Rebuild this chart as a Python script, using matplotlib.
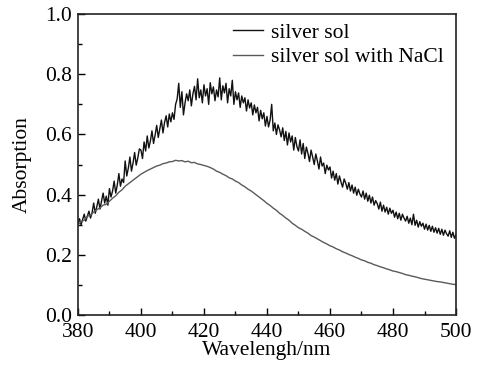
import matplotlib
matplotlib.use("Agg")
import matplotlib.pyplot as plt
from matplotlib.ticker import MultipleLocator

plt.rcParams['font.family'] = ['Liberation Serif', 'DejaVu Serif']

# silver sol measured every 0.5 nm, NaCl sample every 1 nm
wl_silver = [380 + 0.5 * i for i in range(241)]
silver_sol = [
    0.305, 0.320, 0.300, 0.318, 0.335, 0.312, 0.328, 0.345, 0.322, 0.340,
    0.372, 0.338, 0.360, 0.385, 0.352, 0.378, 0.405, 0.372, 0.395, 0.365,
    0.420, 0.392, 0.412, 0.445, 0.405, 0.432, 0.470, 0.428, 0.452, 0.440,
    0.512, 0.462, 0.488, 0.525, 0.478, 0.505, 0.540, 0.498, 0.522, 0.552,
    0.548, 0.520, 0.575, 0.545, 0.595, 0.555, 0.578, 0.612, 0.570, 0.598,
    0.630, 0.590, 0.618, 0.648, 0.605, 0.640, 0.662, 0.625, 0.668, 0.642,
    0.672, 0.650, 0.700, 0.718, 0.770, 0.690, 0.742, 0.665, 0.705, 0.735,
    0.712, 0.748, 0.695, 0.735, 0.760, 0.715, 0.785, 0.722, 0.748, 0.705,
    0.765, 0.728, 0.752, 0.700, 0.772, 0.735, 0.758, 0.712, 0.748, 0.725,
    0.788, 0.715, 0.762, 0.738, 0.770, 0.705, 0.752, 0.728, 0.780, 0.700,
    0.742, 0.715, 0.738, 0.690, 0.728, 0.705, 0.722, 0.678, 0.715, 0.688,
    0.705, 0.665, 0.698, 0.672, 0.690, 0.645, 0.680, 0.652, 0.672, 0.628,
    0.660, 0.625, 0.648, 0.700, 0.612, 0.638, 0.600, 0.632, 0.615, 0.592,
    0.622, 0.580, 0.610, 0.565, 0.605, 0.575, 0.595, 0.548, 0.590, 0.560,
    0.545, 0.582, 0.535, 0.570, 0.520, 0.558, 0.538, 0.510, 0.548, 0.525,
    0.500, 0.535, 0.512, 0.485, 0.525, 0.495, 0.505, 0.470, 0.498, 0.482,
    0.492, 0.455, 0.478, 0.448, 0.470, 0.435, 0.462, 0.442, 0.425, 0.452,
    0.438, 0.418, 0.440, 0.412, 0.432, 0.405, 0.425, 0.398, 0.418, 0.402,
    0.392, 0.412, 0.385, 0.405, 0.378, 0.398, 0.372, 0.392, 0.365, 0.380,
    0.370, 0.352, 0.375, 0.345, 0.365, 0.342, 0.358, 0.335, 0.355, 0.338,
    0.348, 0.325, 0.342, 0.320, 0.338, 0.315, 0.335, 0.322, 0.312, 0.328,
    0.305, 0.322, 0.300, 0.335, 0.298, 0.315, 0.292, 0.310, 0.295, 0.305,
    0.285, 0.302, 0.282, 0.298, 0.278, 0.295, 0.275, 0.290, 0.272, 0.288,
    0.268, 0.285, 0.265, 0.282, 0.270, 0.262, 0.280, 0.258, 0.275, 0.255,
    0.268,
]

wl_nacl = list(range(380, 501))
silver_sol_nacl = [
    0.300, 0.310, 0.315, 0.328, 0.332, 0.342, 0.350, 0.356, 0.365, 0.368,
    0.378, 0.388, 0.396, 0.408, 0.416, 0.428, 0.436, 0.444, 0.452, 0.460,
    0.468, 0.474, 0.480, 0.485, 0.490, 0.495, 0.498, 0.503, 0.505, 0.509,
    0.510, 0.514, 0.512, 0.513, 0.509, 0.511, 0.506, 0.507, 0.502, 0.500,
    0.497, 0.494, 0.490, 0.485, 0.478, 0.474, 0.468, 0.463, 0.456, 0.452,
    0.445, 0.440, 0.432, 0.426, 0.418, 0.412, 0.404, 0.396, 0.388, 0.380,
    0.371, 0.364, 0.355, 0.348, 0.338, 0.331, 0.322, 0.315, 0.305, 0.298,
    0.290, 0.285, 0.278, 0.272, 0.264, 0.259, 0.253, 0.247, 0.241, 0.236,
    0.230, 0.226, 0.220, 0.216, 0.210, 0.206, 0.201, 0.197, 0.192, 0.188,
    0.183, 0.180, 0.175, 0.172, 0.167, 0.164, 0.160, 0.157, 0.153, 0.150,
    0.146, 0.144, 0.141, 0.138, 0.134, 0.132, 0.129, 0.127, 0.124, 0.121,
    0.119, 0.117, 0.115, 0.113, 0.111, 0.110, 0.108, 0.106, 0.104, 0.102,
    0.101,
]

labels = ["silver sol", "silver sol with NaCl"]
x_ticks = [380, 400, 420, 440, 460, 480, 500]
y_ticks = [0.0, 0.2, 0.4, 0.6, 0.8, 1.0]

FS = 15.5
fig = plt.figure(figsize=(4.78, 3.71), dpi=100)
ax = fig.add_axes([0.163, 0.151, 0.791, 0.811])

ax.plot(wl_silver, silver_sol, color='#111111', lw=1.0, label=labels[0])
ax.plot(wl_nacl, silver_sol_nacl, color='#5a5a5a', lw=1.0, label=labels[1])

ax.set_xlim(380, 500)
ax.set_ylim(0, 1.0)
ax.set_xticks(x_ticks)
ax.set_yticks(y_ticks)
ax.set_yticklabels([f"{v:.1f}" for v in y_ticks])
ax.xaxis.set_minor_locator(MultipleLocator(10))
ax.yaxis.set_minor_locator(MultipleLocator(0.1))
ax.tick_params(which='both', direction='in', top=False, right=False,
               labelsize=FS, width=1.0)
ax.tick_params(which='major', length=5)
ax.tick_params(which='minor', length=3)
ax.tick_params(axis='x', pad=6)
ax.tick_params(axis='y', pad=4.5)
for s in ax.spines.values():
    s.set_linewidth(1.2)
    s.set_color('#222222')

ax.set_xlabel("Wavelengh/nm", fontsize=FS)
ax.xaxis.set_label_coords(0.5, -0.088)
ax.set_ylabel("Absorption", fontsize=FS)
ax.yaxis.set_label_coords(-0.122, 0.5)

ax.legend(loc='upper left', bbox_to_anchor=(0.41, 0.972), frameon=False,
          fontsize=FS, handlelength=1.4, handletextpad=0.35,
          labelspacing=0.22, borderaxespad=0.0, borderpad=0.0)

fig.savefig("out.png", dpi=100)
